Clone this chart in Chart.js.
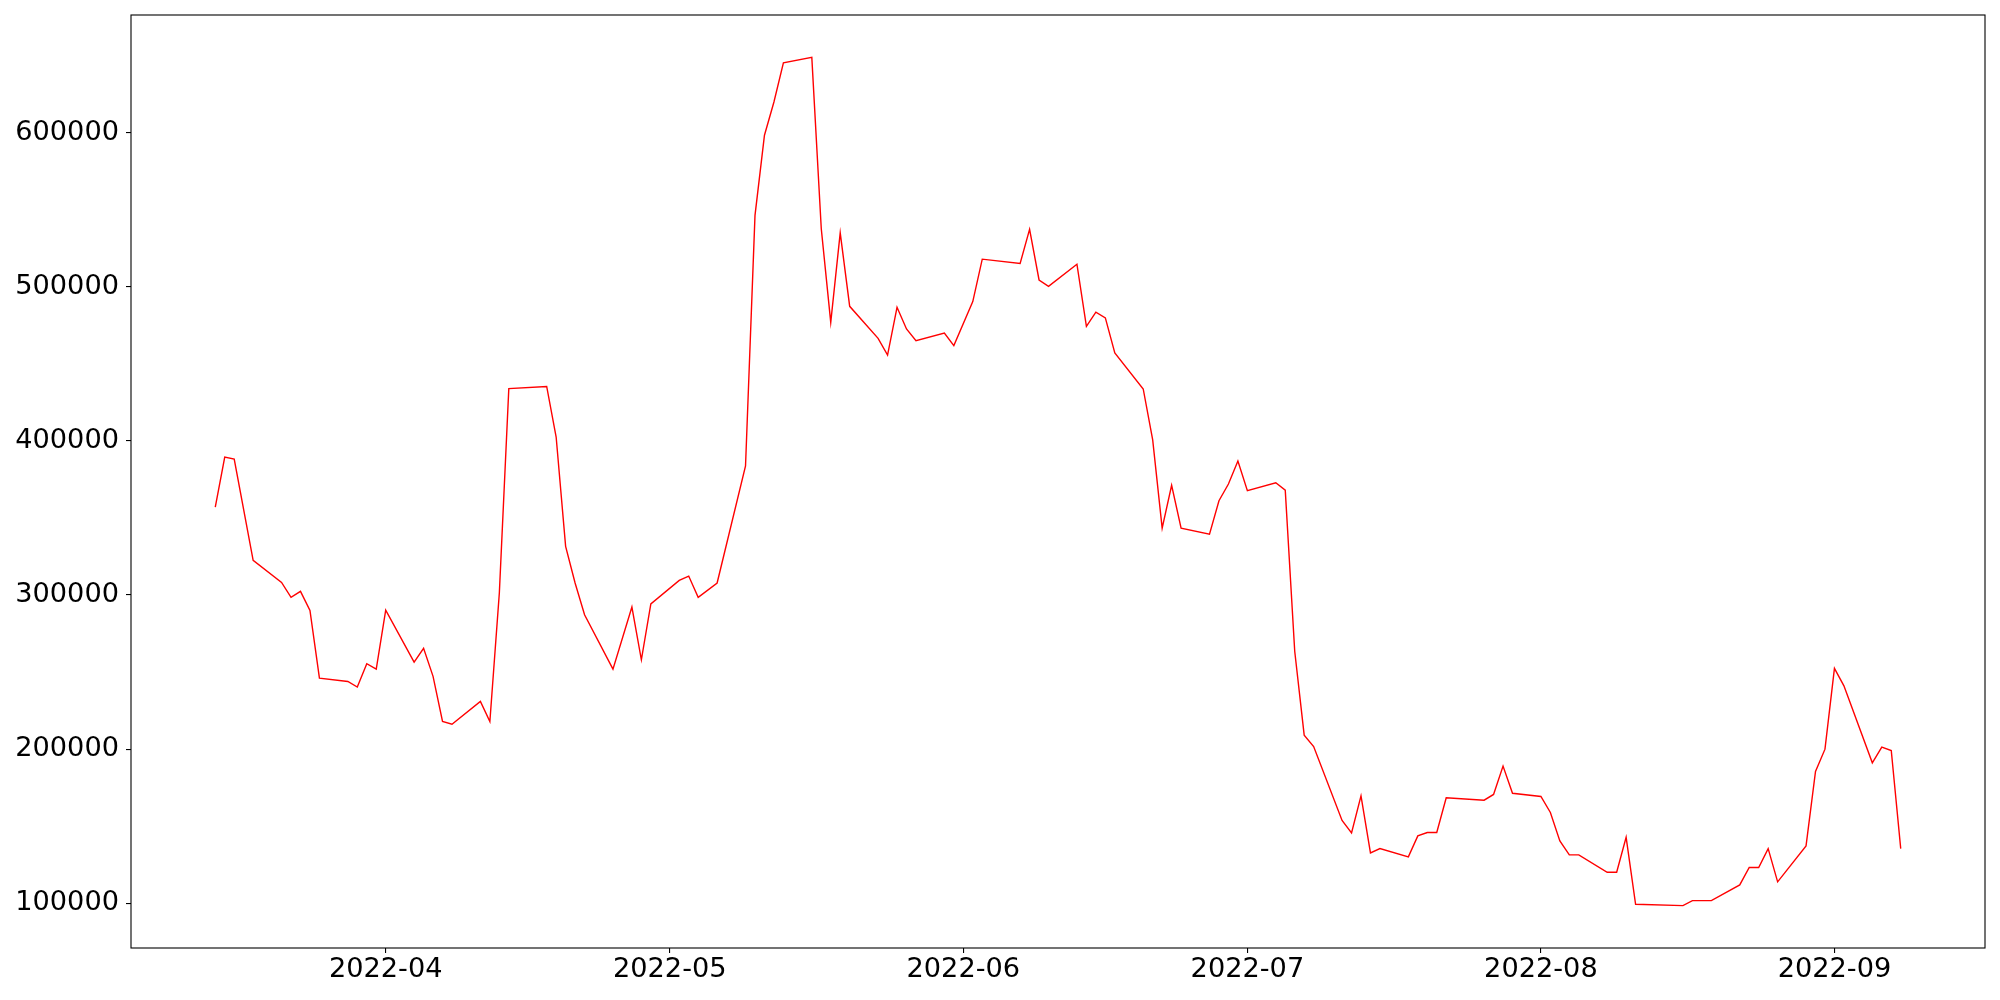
<!DOCTYPE html>
<html>
<head>
<meta charset="utf-8">
<script src="https://cdn.jsdelivr.net/npm/chart.js@4/dist/chart.umd.min.js"></script>
<style>
  html, body { margin: 0; padding: 0; background: #ffffff; }
  #wrap { width: 2000px; height: 1000px; }
</style>
</head>
<body>
<div id="wrap"><canvas id="c" width="2000" height="1000"></canvas></div>
<script>
// ---- data ----
const dates = [
  "2022-03-14","2022-03-15","2022-03-16","2022-03-18","2022-03-21","2022-03-22","2022-03-23","2022-03-24","2022-03-25",
  "2022-03-28","2022-03-29","2022-03-30","2022-03-31","2022-04-01",
  "2022-04-04","2022-04-05","2022-04-06","2022-04-07","2022-04-08",
  "2022-04-11","2022-04-12","2022-04-13","2022-04-14","2022-04-18","2022-04-19","2022-04-20","2022-04-21","2022-04-22",
  "2022-04-25","2022-04-27","2022-04-28","2022-04-29",
  "2022-05-02","2022-05-03","2022-05-04","2022-05-06",
  "2022-05-09","2022-05-10","2022-05-11","2022-05-12","2022-05-13",
  "2022-05-16","2022-05-17","2022-05-18","2022-05-19","2022-05-20",
  "2022-05-23","2022-05-24","2022-05-25","2022-05-26","2022-05-27",
  "2022-05-30","2022-05-31","2022-06-02","2022-06-03",
  "2022-06-07","2022-06-08","2022-06-09","2022-06-10",
  "2022-06-13","2022-06-14","2022-06-15","2022-06-16","2022-06-17",
  "2022-06-20","2022-06-21","2022-06-22","2022-06-23","2022-06-24",
  "2022-06-27","2022-06-28","2022-06-29","2022-06-30","2022-07-01",
  "2022-07-04","2022-07-05","2022-07-06","2022-07-07","2022-07-08",
  "2022-07-11","2022-07-12","2022-07-13","2022-07-14","2022-07-15",
  "2022-07-18","2022-07-19","2022-07-20","2022-07-21","2022-07-22",
  "2022-07-26","2022-07-27","2022-07-28","2022-07-29",
  "2022-08-01","2022-08-02","2022-08-03","2022-08-04","2022-08-05",
  "2022-08-08","2022-08-09","2022-08-10","2022-08-11",
  "2022-08-16","2022-08-17","2022-08-19",
  "2022-08-22","2022-08-23","2022-08-24","2022-08-25","2022-08-26",
  "2022-08-29","2022-08-30","2022-08-31","2022-09-01","2022-09-02",
  "2022-09-05","2022-09-06","2022-09-07","2022-09-08"
];
const values = [
  357000,389500,388200,322500,308200,298500,302400,290000,246100,
  243900,240300,255400,251900,290200,
  256500,265400,247200,218000,216200,
  231000,217900,301300,433900,435300,402500,331600,307800,287200,
  251900,292200,258000,294200,
  309500,312300,298500,307800,
  383800,546300,598300,619900,645300,
  648800,537600,476900,535000,487300,
  466500,455700,486700,472600,465000,
  470000,461800,490400,517900,
  515100,537200,504400,500300,
  514600,474300,483500,479800,457000,
  433700,400600,343400,371200,343400,
  339500,361200,372000,387000,367700,
  372800,368000,263500,209100,201700,
  153700,145700,169700,132700,135500,
  130100,143700,145900,145900,168400,
  166900,170600,189000,171400,
  169300,158900,140500,131400,131400,
  120100,120100,142800,99350,
  98500,101700,101700,
  111900,123300,123200,135500,113900,
  137200,185500,200000,252400,241100,
  191100,201300,199100,135500
];
const xTickDates = ["2022-04-01","2022-05-01","2022-06-01","2022-07-01","2022-08-01","2022-09-01"];
const xTickLabels = ["2022-04","2022-05","2022-06","2022-07","2022-08","2022-09"];
const yTicks = [100000,200000,300000,400000,500000,600000];

// ---- build ----
const toMs = s => Date.parse(s + "T00:00:00Z");
const pts = dates.map((d, i) => ({ x: toMs(d), y: values[i] }));
const xs = pts.map(p => p.x), ys = pts.map(p => p.y);
const xMinD = Math.min(...xs), xMaxD = Math.max(...xs);
const yMinD = Math.min(...ys), yMaxD = Math.max(...ys);
const xm = (xMaxD - xMinD) * 0.05, ym = (yMaxD - yMinD) * 0.05;
const xTickMs = xTickDates.map(toMs);
const labelFor = {};
xTickMs.forEach((v, i) => labelFor[v] = xTickLabels[i]);

const FONT = { family: "'DejaVu Sans'", size: 27.2 };

const framePlugin = {
  id: 'frame',
  afterDraw(chart) {
    const a = chart.chartArea, ctx = chart.ctx;
    ctx.save();
    ctx.strokeStyle = '#000';
    ctx.lineWidth = 1.1;
    ctx.strokeRect(a.left, a.top, a.right - a.left, a.bottom - a.top);
    ctx.restore();
  }
};

new Chart(document.getElementById('c'), {
  type: 'line',
  data: {
    datasets: [{
      data: pts,
      borderColor: '#ff0000',
      borderWidth: 1.4,
      pointRadius: 0,
      tension: 0,
      fill: false
    }]
  },
  options: {
    responsive: false,
    animation: false,
    devicePixelRatio: 1,
    layout: { padding: { left: 0, top: 15, right: 15, bottom: 0 } },
    plugins: { legend: { display: false }, tooltip: { enabled: false } },
    scales: {
      x: {
        type: 'linear',
        min: xMinD - xm,
        max: xMaxD + xm,
        afterBuildTicks(scale) { scale.ticks = xTickMs.map(v => ({ value: v })); },
        afterFit(scale) { scale.height = 52; scale.paddingLeft = 0; scale.paddingRight = 0; },
        border: { display: false },
        grid: { drawOnChartArea: false, drawTicks: true, tickLength: 5, color: '#000', lineWidth: 1.1 },
        ticks: {
          font: FONT, color: '#000', padding: 1, maxRotation: 0, autoSkip: false,
          callback: (v) => labelFor[v] || ''
        }
      },
      y: {
        type: 'linear',
        min: yMinD - ym,
        max: yMaxD + ym,
        afterBuildTicks(scale) { scale.ticks = yTicks.map(v => ({ value: v })); },
        afterFit(scale) { scale.width = 131; scale.paddingTop = 0; scale.paddingBottom = 0; },
        border: { display: false },
        grid: { drawOnChartArea: false, drawTicks: true, tickLength: 5, color: '#000', lineWidth: 1.1 },
        ticks: {
          font: FONT, color: '#000', padding: 7, autoSkip: false,
          callback: (v) => String(v)
        }
      }
    }
  },
  plugins: [framePlugin]
});
</script>
</body>
</html>
